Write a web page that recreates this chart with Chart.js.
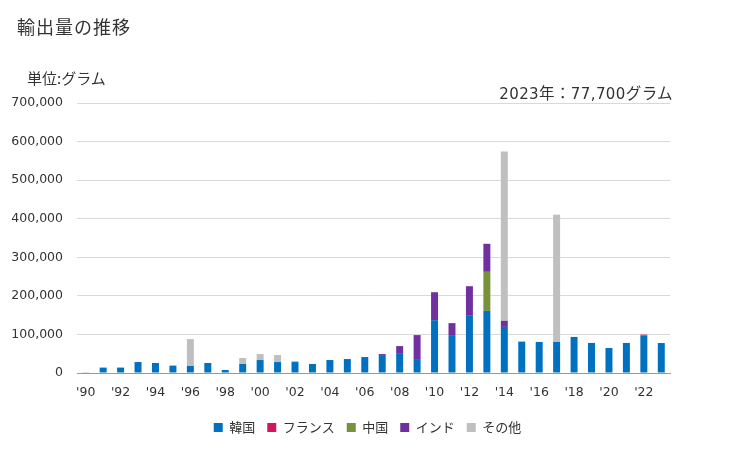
<!DOCTYPE html>
<html><head><meta charset="utf-8">
<script src="https://cdn.jsdelivr.net/npm/chart.js@4"></script>
<style>
html,body{margin:0;padding:0;background:#fff;}
#wrap{position:relative;width:729px;height:450px;font-family:"Noto Sans CJK JP","Noto Sans",sans-serif;color:#333;}
#title{position:absolute;left:17px;top:13px;font-size:18px;line-height:26px;letter-spacing:1px;color:#333;}
#unit{position:absolute;left:27px;top:67px;font-size:15px;line-height:22px;}
#note{position:absolute;right:56px;top:81px;font-size:15px;line-height:22px;letter-spacing:0.4px;font-family:"DejaVu Sans","Noto Sans CJK JP",sans-serif;}
#note .j{font-family:"Noto Sans CJK JP",sans-serif;font-size:15.5px;}
canvas{position:absolute;left:0;top:0;}
</style></head>
<body><div id="wrap">
<canvas id="c" width="729" height="450"></canvas>
<div id="title">輸出量の推移</div>
<div id="unit">単位:グラム</div>
<div id="note">2023<span class="j">年：</span>77,700<span class="j">グラム</span></div>
</div>
<script>
const categories = ["'90","'91","'92","'93","'94","'95","'96","'97","'98","'99","'00","'01","'02","'03","'04","'05","'06","'07","'08","'09","'10","'11","'12","'13","'14","'15","'16","'17","'18","'19","'20","'21","'22","'23"];
const korea  = [0,14000,14000,28400,25900,18100,18100,25900,7800,23300,33600,28400,28400,23300,33600,36200,41400,46500,51700,36200,137000,98300,150000,161000,119500,80500,80500,80500,93500,77900,64900,77900,97000,77700];
const france = [0,0,0,0,0,0,0,0,0,0,0,0,0,0,0,0,0,0,0,0,0,0,0,0,0,0,0,0,0,0,0,0,2600,0];
const china  = [0,0,0,0,0,0,0,0,0,0,0,0,0,0,0,0,0,0,0,0,0,0,0,101300,0,0,0,0,0,0,0,0,0,0];
const india  = [0,0,0,0,0,0,0,0,0,0,0,0,0,0,0,0,0,2600,18100,62100,72400,31000,75000,72700,15600,0,0,0,0,0,0,0,0,0];
const other  = [2600,0,0,0,0,2600,69800,0,0,15500,15500,18100,2600,0,0,0,0,0,0,0,0,0,0,0,439000,2600,0,330000,0,0,0,0,0,0];
const seriesNames = ["韓国","フランス","中国","インド","その他"];
const seriesColors = ["#0070c0","#d0185f","#76933c","#7030a0","#bfbfbf"];
const yTicks = [0,100000,200000,300000,400000,500000,600000,700000];

const FONT = "'Noto Sans CJK JP','Noto Sans',sans-serif";
const NUMFONT = "'DejaVu Sans','Noto Sans',sans-serif";
const data = [korea, france, china, india, other];
const shiftLegend = {
  id: 'shiftLegend',
  afterLayout(chart){ if (chart.legend){ chart.legend.left -= 6; chart.legend.right -= 6; } }
};
new Chart(document.getElementById('c'), {
  type: 'bar',
  data: {
    labels: categories,
    datasets: data.map((d,i)=>({label: seriesNames[i], data: d, backgroundColor: seriesColors[i], borderWidth: 0, barPercentage: 0.4, categoryPercentage: 1.0}))
  },
  plugins: [shiftLegend],
  options: {
    responsive: false,
    animation: false,
    layout: {padding: {left: 0, right: 59, top: 103, bottom: 6}},
    plugins: {
      legend: {position: 'bottom', fullSize: false, labels: {boxWidth: 9, boxHeight: 9, padding: 12, color: '#333', font: {family: FONT, size: 13}}},
      tooltip: {enabled: false}
    },
    scales: {
      x: {
        stacked: true,
        grid: {display: false},
        border: {color: '#999'},
        ticks: {color: '#333', font: {family: NUMFONT, size: 12.5}, autoSkip: false, maxRotation: 0, padding: 4,
          callback: function(v, i){ return i % 2 === 0 ? categories[i] : ''; }},
        afterFit: s => { s.height = 36; }
      },
      y: {
        stacked: true,
        min: 0, max: 700000,
        afterBuildTicks: s => { s.ticks = yTicks.map(v=>({value: v})); },
        grid: {color: ctx => ctx.tick && ctx.tick.value === 0 ? '#999' : '#d9d9d9', drawTicks: false},
        border: {display: false},
        ticks: {color: '#333', font: {family: NUMFONT, size: 12.5}, padding: 14,
          callback: v => v.toLocaleString('en-US')},
        afterFit: s => { s.width = 77; }
      }
    }
  }
});
</script>
</body></html>
